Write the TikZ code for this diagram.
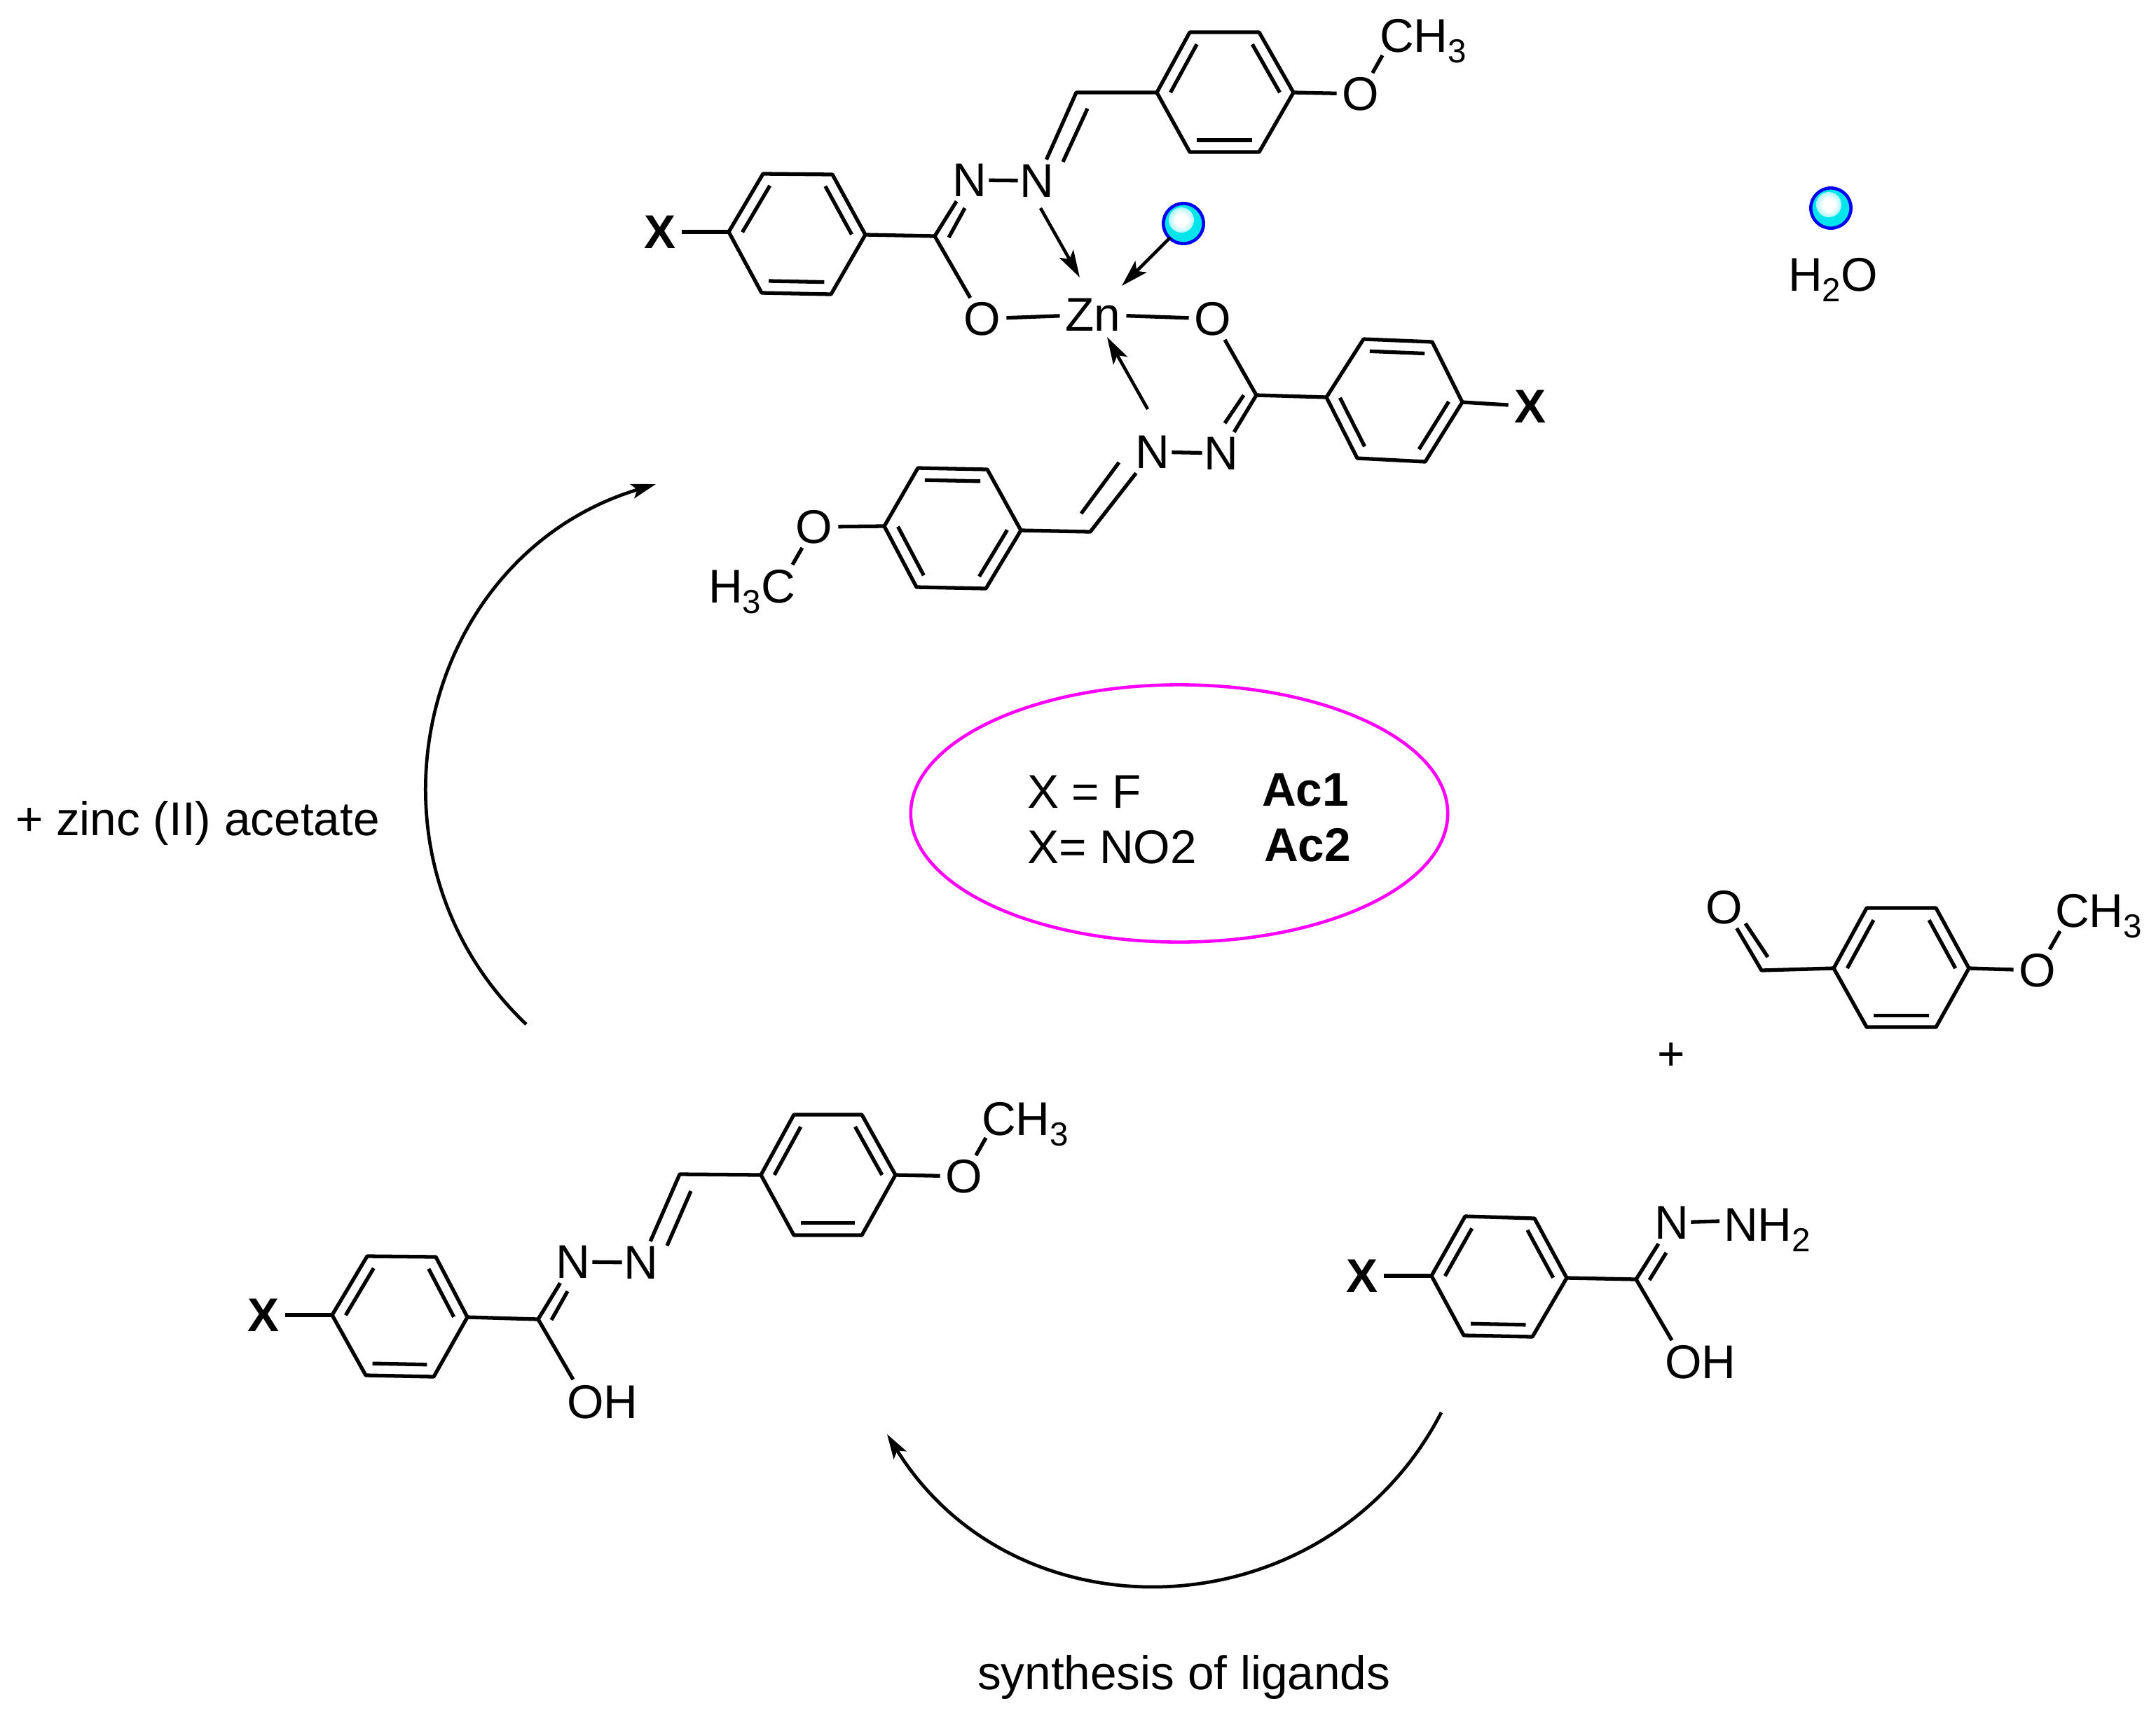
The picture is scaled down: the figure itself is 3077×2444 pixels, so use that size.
\documentclass[tikz,border=0pt]{standalone}
\usepackage{fontspec}
\setmainfont{Liberation Sans}
\usetikzlibrary{arrows.meta,calc,shapes.geometric}
\definecolor{ballcyan}{RGB}{0,228,236}
\definecolor{ballrim}{RGB}{0,0,240}
\definecolor{ovalpink}{RGB}{255,0,255}
\pgfdeclareradialshading{ballglow}{\pgfpoint{0bp}{0bp}}{color(0bp)=(white); color(12bp)=(white); color(30bp)=(ballcyan!45!white); color(50bp)=(ballcyan)}
\newcommand{\chemfont}{\fontsize{19.2}{23}\selectfont}
\newcommand{\sbs}[1]{\raisebox{-4.3pt}{\fontsize{13.5}{15}\selectfont #1}}
\tikzset{
  bond/.style={line width=1.5pt,line join=round,line cap=butt},
  dative/.style={line width=1.3pt,-{Stealth[length=11pt,width=6.5pt,inset=2.5pt]}},
  sweep/.style={line width=1.35pt,-{Stealth[length=10pt,width=6pt,inset=2.2pt]}},
  txt/.style={font=\chemfont,inner sep=0pt,outer sep=0pt},
  txtb/.style={txt,anchor=base west},
  atomN/.style={txt,inner xsep=0.85pt,inner ysep=2pt},
  atomO/.style={txt,inner xsep=2.3pt,inner ysep=1.7pt},
  atomX/.style={txt,font=\chemfont\bfseries,inner xsep=2.5pt},
  molball/.style={circle,draw=ballrim,fill=ballcyan,line width=1.3pt,minimum size=16.3pt,inner sep=0pt},
}
% name, six vertices: left, top-left, top-right, right, bottom-right, bottom-left
\newcommand{\hexring}[7]{%
  \coordinate (#1a) at #2; \coordinate (#1b) at #3; \coordinate (#1c) at #4;
  \coordinate (#1d) at #5; \coordinate (#1e) at #6; \coordinate (#1f) at #7;
  \coordinate (#1o) at ($(#1a)!.5!(#1d)$);
  \draw[bond] (#1a)--(#1b)--(#1c)--(#1d)--(#1e)--(#1f)--cycle;}
\newcommand{\innerbond}[3]{\draw[bond] ($(#1#2)!.2!(#1o)$) -- ($(#1#3)!.2!(#1o)$);}
\newcommand{\kekA}[1]{\innerbond{#1}{a}{b}\innerbond{#1}{c}{d}\innerbond{#1}{e}{f}}
\newcommand{\kekB}[1]{\innerbond{#1}{b}{c}\innerbond{#1}{d}{e}\innerbond{#1}{f}{a}}
% second stroke of a double bond
\newcommand{\sidestroke}[3]{\coordinate (#1p) at #2; \coordinate (#1q) at #3; \draw[bond] (#1p) -- (#1q);}
\begin{document}
\begin{tikzpicture}[x=0.01cm,y=-0.01cm]
\fill[white] (0,0) rectangle (3077,2444);
\useasboundingbox (0,0) rectangle (3077,2444);

%% ===== top complex =====
\node[atomN] (N1a) at (1384,257) {N};
\node[atomN] (N1b) at (1480,258) {N};
\node[atomO] (O1) at (1402,455) {O};
\node[atomO] (Zn) at (1560,449) {Zn};
\node[atomO] (O2) at (1731,455) {O};
\node[atomN] (N2a) at (1743,647) {N};
\node[atomN] (N2b) at (1645,645) {N};
\node[atomO] (O3) at (1942,134) {O};
\node[atomO] (O4) at (1162,752) {O};
\node[atomX] (X1) at (942,331) {X};
\node[atomX] (X2) at (2184,580) {X};
\node[txtb] (M1) at (1969,74) {CH\sbs{3}};
\node[txtb] (M2) at (1011,860) {H\sbs{3}C};

\hexring{A}{(1651,132)}{(1698,46)}{(1797,46)}{(1846,132)}{(1797,217)}{(1698,217)}\kekA{A}
\hexring{B}{(1040,331)}{(1089,248)}{(1188,249)}{(1235,335)}{(1186,420)}{(1087,418)}\kekA{B}
\hexring{C}{(1893,567)}{(1946,484)}{(2044,488)}{(2087,574)}{(2034,659)}{(1937,654)}\kekB{C}
\hexring{D}{(1262,751)}{(1310,668)}{(1409,670)}{(1457,757)}{(1407,840)}{(1308,838)}\kekB{D}

\coordinate (c1) at (1334,337);
\coordinate (c2) at (1793,564);
\coordinate (h1) at (1536,132);
\coordinate (h2) at (1556,759);
\coordinate (m1) at (1973,79);
\coordinate (m2) at (1131,806);

\draw[bond] (X1) -- (Ba);
\draw[bond] (Bd) -- (c1) -- (N1a);
\sidestroke{s1}{(1354,339)}{(1377,297)}
\draw[bond] (c1) -- (O1);
\draw[bond] (N1a) -- (N1b);
\draw[bond] (N1b) -- (h1) -- (Aa);
\sidestroke{s2}{(1552,155)}{(1517,231)}
\draw[bond] (Ad) -- (O3);
\draw[bond] (O3) -- (m1);
\draw[bond] (O1) -- (Zn);
\draw[bond] (Zn) -- (O2);
\draw[bond] (O2) -- (c2) -- (Ca);
\draw[bond] (c2) -- (N2a);
\sidestroke{s3}{(1775,564)}{(1748,604)}
\draw[bond] (Cd) -- (X2);
\draw[bond] (N2a) -- (N2b);
\draw[bond] (N2b) -- (h2) -- (Dd);
\sidestroke{s4}{(1543,733)}{(1597,660)}
\draw[bond] (Da) -- (O4);
\draw[bond] (O4) -- (m2);

\node[molball] (ball1) at (1689,319) {};
\shade[shading=ballglow] (1686,314) circle (18);
\coordinate (n1s) at (1485,297); \coordinate (n1t) at (1541,396);
\coordinate (n2s) at (1638,584); \coordinate (n2t) at (1580,481);
\coordinate (w1s) at (1670,339); \coordinate (w1t) at (1601,408);
\draw[dative] (n1s) -- (n1t);
\draw[dative] (n2s) -- (n2t);
\draw[dative] (w1s) -- (w1t);

%% ===== water =====
\node[molball] (ball2) at (2613,297) {};
\shade[shading=ballglow] (2610,292) circle (18);
\node[txtb] (water) at (2552,415) {H\sbs{2}O};

%% ===== central oval =====
\node[ellipse,draw=ovalpink,line width=1.3pt,minimum width=7.66cm,minimum height=3.67cm,inner sep=0pt] (oval) at (1683,1161) {};
\node[txtb] (xf) at (1466,1153) {X = F};
\node[txtb,font=\chemfont\bfseries] (ac1) at (1801,1150) {Ac1};
\node[txtb] (xno) at (1466,1232) {X= NO2};
\node[txtb,font=\chemfont\bfseries] (ac2) at (1804,1229) {Ac2};

%% ===== ligand, bottom left =====
\node[atomN] (N3a) at (818,1801) {N};
\node[atomN] (N3b) at (915,1802) {N};
\node[txt] (OH1) at (860,2001) {OH};
\node[atomX] (X3) at (376,1877) {X};
\node[atomO] (O5) at (1376,1679) {O};
\node[txtb] (M3) at (1401,1620) {CH\sbs{3}};
\hexring{E}{(1086,1677)}{(1133,1591)}{(1230,1591)}{(1278,1677)}{(1230,1763)}{(1133,1763)}\kekA{E}
\hexring{F}{(474,1877)}{(524,1793)}{(622,1794)}{(667,1880)}{(619,1965)}{(522,1963)}\kekA{F}
\coordinate (c3) at (768,1883);
\coordinate (h3) at (970,1676);
\coordinate (m3) at (1407,1624);
\coordinate (o3) at (818,1969);
\draw[bond] (X3) -- (Fa);
\draw[bond] (Fd) -- (c3) -- (N3a);
\sidestroke{s5}{(787,1884)}{(810,1843)}
\draw[bond] (c3) -- (o3);
\draw[bond] (N3a) -- (N3b);
\draw[bond] (N3b) -- (h3) -- (Ea);
\sidestroke{s6}{(986,1700)}{(952,1778)}
\draw[bond] (Ed) -- (O5);
\draw[bond] (O5) -- (m3);

%% ===== aldehyde =====
\node[atomO] (O6) at (2461,1295) {O};
\node[atomO] (O7) at (2908,1385) {O};
\node[txtb] (M4) at (2933,1323) {CH\sbs{3}};
\hexring{G}{(2617,1382)}{(2664,1296)}{(2763,1296)}{(2810,1382)}{(2763,1466)}{(2664,1466)}\kekA{G}
\coordinate (c5) at (2514,1385);
\coordinate (m4) at (2940,1329);
\draw[bond] (O6) -- (c5) -- (Ga);
\sidestroke{s7}{(2523,1366)}{(2491,1318)}
\draw[bond] (Gd) -- (O7);
\draw[bond] (O7) -- (m4);
\node[txtb,anchor=base] (plus) at (2385,1527) {+};

%% ===== hydrazide =====
\node[atomN] (N4) at (2386,1745) {N};
\node[txtb] (NH2) at (2460,1771) {NH\sbs{2}};
\node[txt] (OH2) at (2427,1944) {OH};
\node[atomX] (X4) at (1944,1821) {X};
\hexring{H}{(2043,1821)}{(2091,1736)}{(2190,1739)}{(2236,1824)}{(2187,1908)}{(2089,1906)}\kekA{H}
\coordinate (c4) at (2335,1826);
\coordinate (n4) at (2454,1743);
\coordinate (o4) at (2386,1913);
\draw[bond] (X4) -- (Ha);
\draw[bond] (Hd) -- (c4) -- (N4);
\sidestroke{s8}{(2354,1827)}{(2378,1788)}
\draw[bond] (c4) -- (o4);
\draw[bond] (N4) -- (n4);

%% ===== cycle arrows and their labels =====
\coordinate (a1s) at (751,1462); \coordinate (a1t) at (936,691);
\coordinate (a1u) at (496.4,1219); \coordinate (a1v) at (599,792);
\draw[sweep] (a1s) .. controls (a1u) and (a1v) .. (a1t);
\node[txtb] (zinc) at (22,1192) {+ zinc (II) acetate};
\coordinate (a2s) at (2057,2016); \coordinate (a2t) at (1266,2047);
\coordinate (a2u) at (1894.6,2329.5); \coordinate (a2v) at (1452,2347);
\draw[sweep] (a2s) .. controls (a2u) and (a2v) .. (a2t);
\node[txtb] (synth) at (1395,2411) {synthesis of ligands};
\end{tikzpicture}
\end{document}
